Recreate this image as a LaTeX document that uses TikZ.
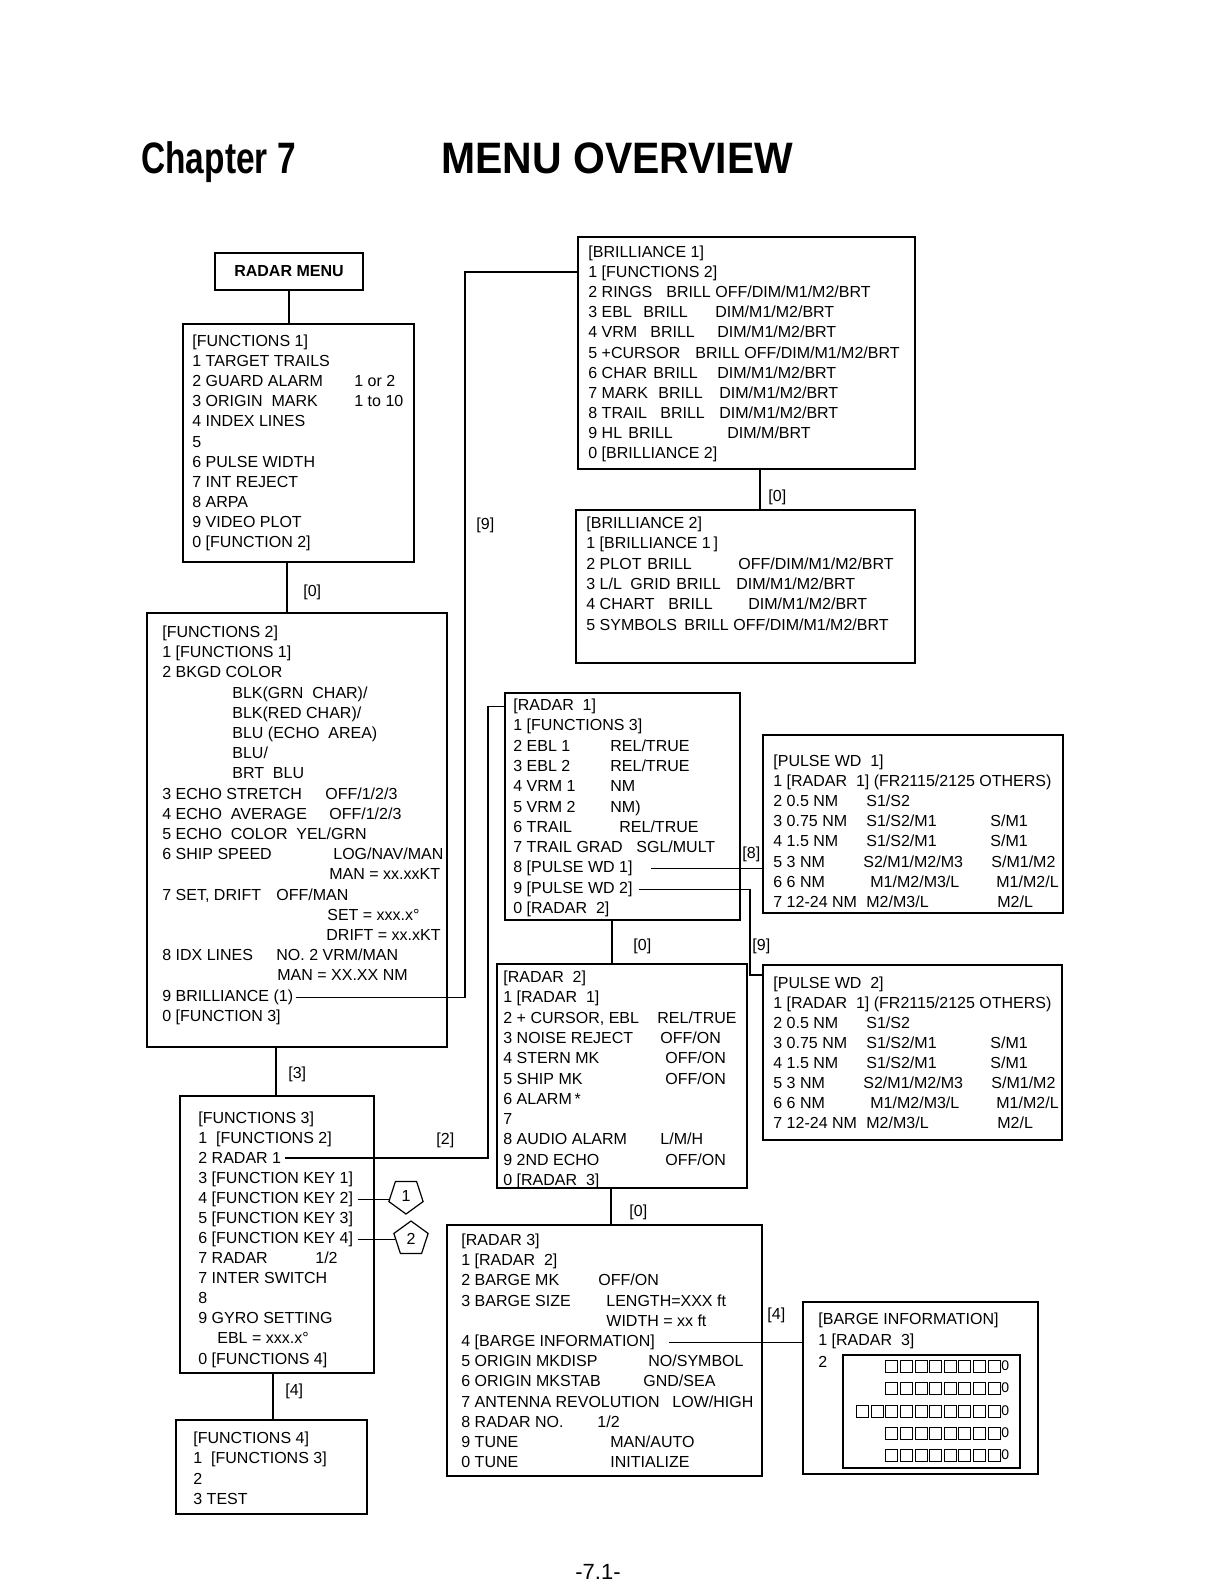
\documentclass[tikz,border=0pt]{standalone}
\usepackage{fontspec}
\usepackage{graphicx}
\setmainfont{Liberation Sans}
\usetikzlibrary{fit,shapes.geometric}
\newcommand{\mtx}[4]{\node[txt] (#1) at (#2,{#3+5.5}) {#4};}
\newcommand{\sqrow}[3]{%
  \foreach \k in {1,...,#2} {\draw[sq] ({1000-14.6*\k+2.6},{#1-6}) rectangle ++(12,12);}
  \node[zero] (#3) at (1001,#1) {0};}
\begin{document}
\begin{tikzpicture}[x=0.5pt,y=-0.5pt,
  mbox/.style={draw,line width=0.6pt,inner sep=0pt},
  txt/.style={anchor=base west,inner sep=0pt,font=\fontsize{8}{10}\selectfont},
  conn/.style={line width=0.6pt},
  penta/.style={draw,line width=0.6pt,regular polygon,regular polygon sides=5,minimum size=18pt,inner sep=0pt,font=\fontsize{8}{10}\selectfont},
  sq/.style={line width=0.5pt},
  zero/.style={anchor=west,inner sep=0pt,font=\fontsize{7}{8}\selectfont},
  ttl/.style={anchor=base west,inner sep=0pt,font=\bfseries\fontsize{22}{26}\selectfont}]
\fill[white] (0,0) rectangle (1224,1584);
\useasboundingbox (0,0) rectangle (1224,1584);

% title
\node[ttl] (ttlA) at (141,173) {\scalebox{0.76}[1]{Chapter 7}};
\node[ttl] (ttlB) at (441,173) {\scalebox{0.93}[1]{MENU OVERVIEW}};
\node[anchor=base,inner sep=0pt,font=\fontsize{11}{13}\selectfont] (pgno) at (598,1579) {-7.1-};

% boxes
\node[mbox,fit={(215,253) (363,290)}] (rmenu) {};
\node[mbox,fit={(183,324) (414,562)}] (f1) {};
\node[mbox,fit={(147,613) (447,1047)}] (f2) {};
\node[mbox,fit={(180,1096) (374,1373)}] (f3) {};
\node[mbox,fit={(176,1420) (367,1514)}] (f4) {};
\node[mbox,fit={(578,237) (915,469)}] (b1) {};
\node[mbox,fit={(576,510) (915,663)}] (b2) {};
\node[mbox,fit={(505,693) (740,920)}] (r1) {};
\node[mbox,fit={(763,735) (1063,913)}] (pw1) {};
\node[mbox,fit={(763,965) (1062,1140)}] (pw2) {};
\node[mbox,fit={(497,964) (747,1188)}] (r2) {};
\node[mbox,fit={(447,1225) (762,1476)}] (r3) {};
\node[mbox,fit={(803,1302) (1038,1474)}] (bi) {};
\node[mbox,fit={(843,1355) (1020,1468)}] (bigrid) {};

% RADAR MENU
\node[inner sep=0pt,font=\bfseries\fontsize{8}{10}\selectfont] (rmtxt) at (rmenu.center) {RADAR MENU};

% FUNCTIONS 1
\mtx{f1r0}{192}{341}{[FUNCTIONS 1]}
\mtx{f1r1}{192}{361}{1 TARGET TRAILS}
\mtx{f1r2}{192}{381}{2 GUARD ALARM}
\mtx{f1r2b}{354}{381}{1 or 2}
\mtx{f1r3}{192}{401}{3 ORIGIN\ \ MARK}
\mtx{f1r3b}{354}{401}{1 to 10}
\mtx{f1r4}{192}{421}{4 INDEX LINES}
\mtx{f1r5}{192}{442}{5}
\mtx{f1r6}{192}{462}{6 PULSE WIDTH}
\mtx{f1r7}{192}{482}{7 INT REJECT}
\mtx{f1r8}{192}{502}{8 ARPA}
\mtx{f1r9}{192}{522}{9 VIDEO PLOT}
\mtx{f1r10}{192}{542}{0 [FUNCTION 2]}

% FUNCTIONS 2
\mtx{f2r0}{162}{632}{[FUNCTIONS 2]}
\mtx{f2r1}{162}{652}{1 [FUNCTIONS 1]}
\mtx{f2r2}{162}{672}{2 BKGD COLOR}
\mtx{f2r3}{232}{693}{BLK(GRN\ \ CHAR)/}
\mtx{f2r4}{232}{713}{BLK(RED CHAR)/}
\mtx{f2r5}{232}{733}{BLU (ECHO\ \ AREA)}
\mtx{f2r6}{232}{753}{BLU/}
\mtx{f2r7}{232}{773}{BRT\ \ BLU}
\mtx{f2r8}{162}{794}{3 ECHO STRETCH}
\mtx{f2r8b}{325}{794}{OFF/1/2/3}
\mtx{f2r9}{162}{814}{4 ECHO\ \ AVERAGE}
\mtx{f2r9b}{329}{814}{OFF/1/2/3}
\mtx{f2r10}{162}{834}{5 ECHO\ \ COLOR}
\mtx{f2r10b}{296}{834}{YEL/GRN}
\mtx{f2r11}{162}{854}{6 SHIP SPEED}
\mtx{f2r11b}{333}{854}{LOG/NAV/MAN}
\mtx{f2r12}{329}{874}{MAN = xx.xxKT}
\mtx{f2r13}{162}{895}{7 SET, DRIFT}
\mtx{f2r13b}{276}{895}{OFF/MAN}
\mtx{f2r14}{327}{915}{SET = xxx.x°}
\mtx{f2r15}{326}{935}{DRIFT = xx.xKT}
\mtx{f2r16}{162}{955}{8 IDX LINES}
\mtx{f2r16b}{276}{955}{NO.\ 2 VRM/MAN}
\mtx{f2r17}{277}{975}{MAN = XX.XX NM}
\mtx{f2r18}{162}{996}{9 BRILLIANCE (1)}
\mtx{f2r19}{162}{1016}{0 [FUNCTION 3]}

% FUNCTIONS 3
\mtx{f3r0}{198}{1118}{[FUNCTIONS 3]}
\mtx{f3r1}{198}{1138}{1\ \ [FUNCTIONS 2]}
\mtx{f3r2}{198}{1158}{2 RADAR 1}
\mtx{f3r3}{198}{1178}{3 [FUNCTION KEY 1]}
\mtx{f3r4}{198}{1198}{4 [FUNCTION KEY 2]}
\mtx{f3r5}{198}{1218}{5 [FUNCTION KEY 3]}
\mtx{f3r6}{198}{1238}{6 [FUNCTION KEY 4]}
\mtx{f3r7}{198}{1258}{7 RADAR}
\mtx{f3r7b}{315}{1258}{1/2}
\mtx{f3r8}{198}{1278}{7 INTER SWITCH}
\mtx{f3r9}{198}{1298}{8}
\mtx{f3r10}{198}{1318}{9 GYRO SETTING}
\mtx{f3r11}{217}{1338}{EBL = xxx.x°}
\mtx{f3r12}{198}{1359}{0 [FUNCTIONS 4]}

% FUNCTIONS 4
\mtx{f4r0}{193}{1438}{[FUNCTIONS 4]}
\mtx{f4r1}{193}{1458}{1\ \ [FUNCTIONS 3]}
\mtx{f4r2}{193}{1479}{2}
\mtx{f4r3}{193}{1499}{3 TEST}

% BRILLIANCE 1
\mtx{b1r0}{588}{252}{[BRILLIANCE 1]}
\mtx{b1r1}{588}{272}{1 [FUNCTIONS 2]}
\mtx{b1r2}{588}{292}{2 RINGS}
\mtx{b1r2b}{666}{292}{BRILL OFF/DIM/M1/M2/BRT}
\mtx{b1r3}{588}{312}{3 EBL}
\mtx{b1r3b}{643}{312}{BRILL}
\mtx{b1r3c}{715}{312}{DIM/M1/M2/BRT}
\mtx{b1r4}{588}{332}{4 VRM}
\mtx{b1r4b}{650}{332}{BRILL}
\mtx{b1r4c}{717}{332}{DIM/M1/M2/BRT}
\mtx{b1r5}{588}{353}{5 +CURSOR}
\mtx{b1r5b}{695}{353}{BRILL OFF/DIM/M1/M2/BRT}
\mtx{b1r6}{588}{373}{6 CHAR}
\mtx{b1r6b}{653}{373}{BRILL}
\mtx{b1r6c}{717}{373}{DIM/M1/M2/BRT}
\mtx{b1r7}{588}{393}{7 MARK}
\mtx{b1r7b}{658}{393}{BRILL}
\mtx{b1r7c}{719}{393}{DIM/M1/M2/BRT}
\mtx{b1r8}{588}{413}{8 TRAIL}
\mtx{b1r8b}{660}{413}{BRILL}
\mtx{b1r8c}{719}{413}{DIM/M1/M2/BRT}
\mtx{b1r9}{588}{433}{9 HL}
\mtx{b1r9b}{628}{433}{BRILL}
\mtx{b1r9c}{727}{433}{DIM/M/BRT}
\mtx{b1r10}{588}{453}{0 [BRILLIANCE 2]}

% BRILLIANCE 2
\mtx{b2r0}{586}{523}{[BRILLIANCE 2]}
\mtx{b2r1}{586}{543}{1 [BRILLIANCE 1\,]}
\mtx{b2r2}{586}{564}{2 PLOT}
\mtx{b2r2b}{647}{564}{BRILL}
\mtx{b2r2c}{738}{564}{OFF/DIM/M1/M2/BRT}
\mtx{b2r3}{586}{584}{3 L/L}
\mtx{b2r3b}{630}{584}{GRID}
\mtx{b2r3c}{676}{584}{BRILL}
\mtx{b2r3d}{736}{584}{DIM/M1/M2/BRT}
\mtx{b2r4}{586}{604}{4 CHART}
\mtx{b2r4b}{668}{604}{BRILL}
\mtx{b2r4c}{748}{604}{DIM/M1/M2/BRT}
\mtx{b2r5}{586}{625}{5 SYMBOLS}
\mtx{b2r5b}{684}{625}{BRILL OFF/DIM/M1/M2/BRT}

% RADAR 1
\mtx{r1r0}{513}{705}{[RADAR\ \ 1]}
\mtx{r1r1}{513}{725}{1 [FUNCTIONS 3]}
\mtx{r1r2}{513}{746}{2 EBL 1}
\mtx{r1r2b}{610}{746}{REL/TRUE}
\mtx{r1r3}{513}{766}{3 EBL 2}
\mtx{r1r3b}{610}{766}{REL/TRUE}
\mtx{r1r4}{513}{786}{4 VRM 1}
\mtx{r1r4b}{610}{786}{NM}
\mtx{r1r5}{513}{807}{5 VRM 2}
\mtx{r1r5b}{610}{807}{NM)}
\mtx{r1r6}{513}{827}{6 TRAIL}
\mtx{r1r6b}{619}{827}{REL/TRUE}
\mtx{r1r7}{513}{847}{7 TRAIL GRAD}
\mtx{r1r7b}{636}{847}{SGL/MULT}
\mtx{r1r8}{513}{867}{8 [PULSE WD 1]}
\mtx{r1r9}{513}{888}{9 [PULSE WD 2]}
\mtx{r1r10}{513}{908}{0 [RADAR\ \ 2]}

% PULSE WD 1
\mtx{p1r0}{773}{761}{[PULSE WD\ \ 1]}
\mtx{p1r1}{773}{781}{1 [RADAR\ \ 1] (FR2115/2125 OTHERS)}
\mtx{p1r2}{773}{801}{2 0.5 NM}
\mtx{p1r2b}{866}{801}{S1/S2}
\mtx{p1r3}{773}{821}{3 0.75 NM}
\mtx{p1r3b}{866}{821}{S1/S2/M1}
\mtx{p1r3c}{990}{821}{S/M1}
\mtx{p1r4}{773}{841}{4 1.5 NM}
\mtx{p1r4b}{866}{841}{S1/S2/M1}
\mtx{p1r4c}{990}{841}{S/M1}
\mtx{p1r5}{773}{862}{5 3 NM}
\mtx{p1r5b}{863}{862}{S2/M1/M2/M3}
\mtx{p1r5c}{991}{862}{S/M1/M2}
\mtx{p1r6}{773}{882}{6 6 NM}
\mtx{p1r6b}{870}{882}{M1/M2/M3/L}
\mtx{p1r6c}{996}{882}{M1/M2/L}
\mtx{p1r7}{773}{902}{7 12-24 NM}
\mtx{p1r7b}{866}{902}{M2/M3/L}
\mtx{p1r7c}{997}{902}{M2/L}

% PULSE WD 2
\mtx{p2r0}{773}{983}{[PULSE WD\ \ 2]}
\mtx{p2r1}{773}{1003}{1 [RADAR\ \ 1] (FR2115/2125 OTHERS)}
\mtx{p2r2}{773}{1023}{2 0.5 NM}
\mtx{p2r2b}{866}{1023}{S1/S2}
\mtx{p2r3}{773}{1043}{3 0.75 NM}
\mtx{p2r3b}{866}{1043}{S1/S2/M1}
\mtx{p2r3c}{990}{1043}{S/M1}
\mtx{p2r4}{773}{1063}{4 1.5 NM}
\mtx{p2r4b}{866}{1063}{S1/S2/M1}
\mtx{p2r4c}{990}{1063}{S/M1}
\mtx{p2r5}{773}{1083}{5 3 NM}
\mtx{p2r5b}{863}{1083}{S2/M1/M2/M3}
\mtx{p2r5c}{991}{1083}{S/M1/M2}
\mtx{p2r6}{773}{1103}{6 6 NM}
\mtx{p2r6b}{870}{1103}{M1/M2/M3/L}
\mtx{p2r6c}{996}{1103}{M1/M2/L}
\mtx{p2r7}{773}{1123}{7 12-24 NM}
\mtx{p2r7b}{866}{1123}{M2/M3/L}
\mtx{p2r7c}{997}{1123}{M2/L}

% RADAR 2
\mtx{r2r0}{503}{977}{[RADAR\ \ 2]}
\mtx{r2r1}{503}{997}{1 [RADAR\ \ 1]}
\mtx{r2r2}{503}{1018}{2 + CURSOR, EBL}
\mtx{r2r2b}{657}{1018}{REL/TRUE}
\mtx{r2r3}{503}{1038}{3 NOISE REJECT}
\mtx{r2r3b}{660}{1038}{OFF/ON}
\mtx{r2r4}{503}{1058}{4 STERN MK}
\mtx{r2r4b}{665}{1058}{OFF/ON}
\mtx{r2r5}{503}{1079}{5 SHIP MK}
\mtx{r2r5b}{665}{1079}{OFF/ON}
\mtx{r2r6}{503}{1099}{6 ALARM\,*}
\mtx{r2r7}{503}{1119}{7}
\mtx{r2r8}{503}{1139}{8 AUDIO ALARM}
\mtx{r2r8b}{660}{1139}{L/M/H}
\mtx{r2r9}{503}{1160}{9 2ND ECHO}
\mtx{r2r9b}{665}{1160}{OFF/ON}
\mtx{r2r10}{503}{1180}{0 [RADAR\ \ 3]}

% RADAR 3
\mtx{r3r0}{461}{1240}{[RADAR 3]}
\mtx{r3r1}{461}{1260}{1 [RADAR\ \ 2]}
\mtx{r3r2}{461}{1280}{2 BARGE MK}
\mtx{r3r2b}{598}{1280}{OFF/ON}
\mtx{r3r3}{461}{1301}{3 BARGE SIZE}
\mtx{r3r3b}{606}{1301}{LENGTH=XXX ft}
\mtx{r3r4}{606}{1321}{WIDTH = xx ft}
\mtx{r3r5}{461}{1341}{4 [BARGE INFORMATION]}
\mtx{r3r6}{461}{1361}{5 ORIGIN MKDISP}
\mtx{r3r6b}{648}{1361}{NO/SYMBOL}
\mtx{r3r7}{461}{1381}{6 ORIGIN MKSTAB}
\mtx{r3r7b}{643}{1381}{GND/SEA}
\mtx{r3r8}{461}{1402}{7 ANTENNA REVOLUTION}
\mtx{r3r8b}{672}{1402}{LOW/HIGH}
\mtx{r3r9}{461}{1422}{8 RADAR NO.}
\mtx{r3r9b}{597}{1422}{1/2}
\mtx{r3r10}{461}{1442}{9 TUNE}
\mtx{r3r10b}{610}{1442}{MAN/AUTO}
\mtx{r3r11}{461}{1462}{0 TUNE}
\mtx{r3r11b}{610}{1462}{INITIALIZE}

% BARGE INFORMATION
\mtx{bir0}{818}{1319}{[BARGE INFORMATION]}
\mtx{bir1}{818}{1340}{1 [RADAR\ \ 3]}
\mtx{bir2}{818}{1362}{2}
\sqrow{1366}{8}{bz1}
\sqrow{1388}{8}{bz2}
\sqrow{1411}{10}{bz3}
\sqrow{1433}{8}{bz4}
\sqrow{1455}{8}{bz5}

% pentagons
\node[penta,shape border rotate=180] (pa) at (406,1196) {1};
\node[penta] (pb) at (411,1239) {2};

% vertical connectors
\coordinate (v1) at (287,0);
\coordinate (v2) at (276,0);
\coordinate (v3) at (273,0);
\coordinate (v4) at (760,0);
\coordinate (v5) at (612,0);
\coordinate (v6) at (611,0);
\draw[conn] (rmenu.south) -- (rmenu.south |- f1.north);
\draw[conn] (v1 |- f1.south) -- (v1 |- f2.north);
\draw[conn] (v2 |- f2.south) -- (v2 |- f3.north);
\draw[conn] (v3 |- f3.south) -- (v3 |- f4.north);
\draw[conn] (v4 |- b1.south) -- (v4 |- b2.north);
\draw[conn] (v5 |- r1.south) -- (v5 |- r2.north);
\draw[conn] (v6 |- r2.south) -- (v6 |- r3.north);

% routed connectors
\coordinate (k9a) at (465,996);
\coordinate (k9b) at (465,272);
\draw[conn] ([xshift=1pt]f2r18.east) -- (f2r18.east -| k9a) -- (k9b) -- (k9b -| b1.west);
\coordinate (k2a) at (488,0);
\draw[conn] ([xshift=2pt]f3r2.east) -- (f3r2.east -| k2a) -- (k2a |- r1r0.west) -- (r1.west |- r1r0.west);
\draw[conn] ([xshift=9pt]r1r8.east) -- (r1r8.east -| pw1.west);
\coordinate (k9c) at (750,975);
\draw[conn] ([xshift=3pt]r1r9.east) -- (r1r9.east -| k9c) -- (k9c) -- (k9c -| pw2.west);
\draw[conn] ([xshift=7pt]r3r5.east) -- (r3r5.east -| bi.west);
\draw[conn] ([xshift=2pt]f3r4.east) -- (f3r4.east -| pa.west);
\draw[conn] ([xshift=2pt]f3r6.east) -- (f3r6.east -| pb.west);

% connector labels
\mtx{l1}{303}{591}{[0]}
\mtx{l2}{476}{524}{[9]}
\mtx{l3}{768}{496}{[0]}
\mtx{l4}{288}{1073}{[3]}
\mtx{l5}{436}{1139}{[2]}
\mtx{l6}{285}{1390}{[4]}
\mtx{l7}{742}{853}{[8]}
\mtx{l8}{752}{945}{[9]}
\mtx{l9}{633}{945}{[0]}
\mtx{l10}{629}{1211}{[0]}
\mtx{l11}{767}{1314}{[4]}
\end{tikzpicture}
\end{document}
